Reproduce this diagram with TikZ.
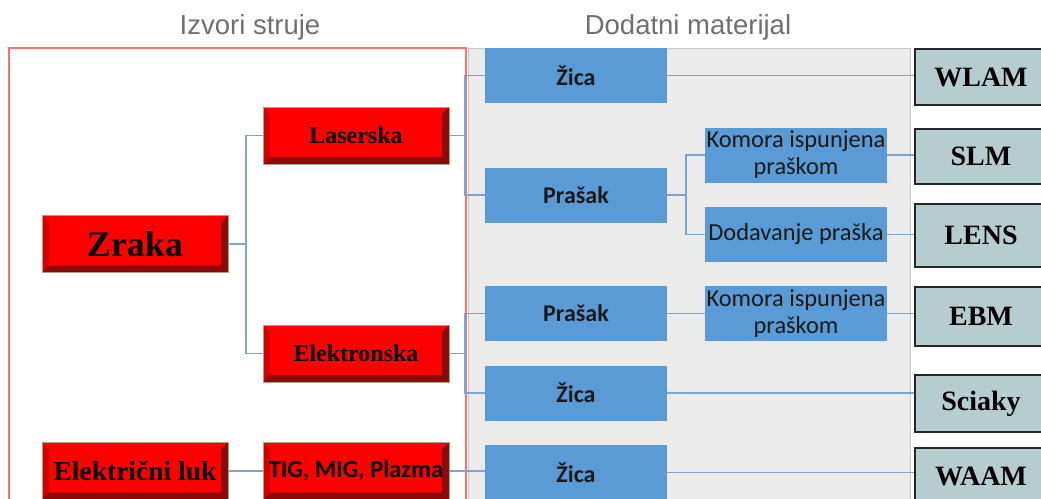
\documentclass[tikz,border=0pt]{standalone}
\usepackage{fontspec}
\setmainfont{Liberation Serif}
\newfontfamily\calibri{Carlito}
\newfontfamily\arialfont{Liberation Sans}
\definecolor{srcred}{HTML}{FF0000}
\definecolor{bevdark}{HTML}{8B0A0A}
\definecolor{bevleft}{HTML}{D20000}
\definecolor{rimgreen}{HTML}{A3A883}
\definecolor{matblue}{HTML}{5B9BD5}
\definecolor{procfill}{HTML}{B5CDCF}
\definecolor{linkblue}{HTML}{7FA3CC}
\definecolor{framered}{HTML}{FF6F6F}
\definecolor{panelgray}{HTML}{EBEBEB}
\definecolor{panelline}{HTML}{C9C9C9}
\definecolor{titlegray}{HTML}{6F6F6F}
\begin{document}
\begin{tikzpicture}[x=1pt,y=-1pt,
        title/.style={text=titlegray, font=\arialfont\fontsize{27.5}{31}\selectfont},
        srcbox/.style={draw=rimgreen, line width=0.6pt, fill=srcred, inner sep=0pt,
            minimum width=186pt, minimum height=57pt,
            font=\bfseries\fontsize{24}{28}\selectfont,
            path picture={
                \fill[bevdark] (path picture bounding box.south west)
                    -- (path picture bounding box.south east)
                    -- (path picture bounding box.north east)
                    -- ([shift={(-7pt,-7pt)}]path picture bounding box.north east)
                    -- ([shift={(-7pt,7pt)}]path picture bounding box.south east)
                    -- ([shift={(7pt,7pt)}]path picture bounding box.south west) -- cycle;
                \fill[bevleft] (path picture bounding box.south west)
                    -- (path picture bounding box.north west)
                    -- ([shift={(7pt,-7pt)}]path picture bounding box.north west)
                    -- ([shift={(7pt,7pt)}]path picture bounding box.south west) -- cycle;
            }},
        matbox/.style={fill=matblue, inner sep=0pt, minimum width=182pt, minimum height=55pt,
            text=black!90, font=\calibri\bfseries\fontsize{24}{28}\selectfont},
        subbox/.style={matbox, align=center, font=\calibri\fontsize{24.4}{27}\selectfont},
        procbox/.style={draw=black!85, line width=1.6pt, fill=procfill, inner sep=0pt,
            minimum width=132pt, minimum height=56pt,
            font=\bfseries\fontsize{28}{32}\selectfont},
        link/.style={draw=linkblue, line width=1.8pt}]
        \useasboundingbox (0,0) rectangle (1041,498);
        \clip (0,0) rectangle (1041,498);
        %% Panels
        \draw[fill=panelgray, draw=panelline, line width=1pt] (468,48) rectangle (910,520);
        \draw[draw=framered, line width=1.5pt] (9,48) rectangle (466,520);
        \node[title] (tsrc) at (250,27) {Izvori struje};
        \node[title] (tmat) at (688,27) {Dodatni materijal};
        %% Sources
        \node[srcbox, font=\bfseries\fontsize{36}{40}\selectfont] (zraka) at (135,244) {Zraka};
        \node[srcbox] (laser) at (356,135.5) {Laserska};
        \node[srcbox] (elek) at (356,353.5) {Elektronska};
        \node[srcbox, font=\bfseries\fontsize{27.5}{32}\selectfont] (luk) at (135,471) {Električni luk};
        \node[srcbox, font=\calibri\bfseries\fontsize{24.5}{28}\selectfont] (tig) at (356,471) {TIG, MIG, Plazma};
        %% Material
        \node[matbox] (zica1) at (576,75.5) {Žica};
        \node[matbox] (prah1) at (576,195) {Prašak};
        \node[matbox] (prah2) at (576,313.5) {Prašak};
        \node[matbox] (zica2) at (576,393) {Žica};
        \node[matbox] (zica3) at (576,472.5) {Žica};
        \node[subbox] (kom1) at (796,155) {Komora ispunjena\\praškom};
        \node[subbox] (dod) at (796,234.5) {Dodavanje praška};
        \node[subbox] (kom2) at (796,313.5) {Komora ispunjena\\praškom};
        %% Processes
        \node[procbox] (wlam) at (981,77) {WLAM};
        \node[procbox, minimum height=55pt] (slm) at (981,156.5) {SLM};
        \node[procbox, minimum height=63pt] (lens) at (981,235.5) {LENS};
        \node[procbox, minimum height=59pt] (ebm) at (981,316.5) {EBM};
        \node[procbox, minimum height=57pt] (sciaky) at (981,403.5) {Sciaky};
        \node[procbox] (waam) at (981,476) {WAAM};
        %% Links
        \draw[link] (zraka.east) -- ++(18,0) |- (laser.west);
        \draw[link] (zraka.east) -- ++(18,0) |- (elek.west);
        \draw[link] (laser.east) -- ++(16,0) |- (zica1.west);
        \draw[link] (laser.east) -- ++(16,0) |- (prah1.west);
        \draw[link] (elek.east) -- ++(16,0) |- (prah2.west);
        \draw[link] (elek.east) -- ++(16,0) |- (zica2.west);
        \draw[link] (luk.east) -- (tig.west);
        \draw[link] (tig.east) -- (tig.east -| zica3.west);
        \draw[link] (prah1.east) -- ++(19,0) |- (kom1.west);
        \draw[link] (prah1.east) -- ++(19,0) |- (dod.west);
        \draw[link] (prah2.east) -- (kom2.west);
        \draw[link] (zica1.east) -- (zica1.east -| wlam.west);
        \draw[link] (kom1.east) -- (kom1.east -| slm.west);
        \draw[link] (dod.east) -- (dod.east -| lens.west);
        \draw[link] (kom2.east) -- (kom2.east -| ebm.west);
        \draw[link] (zica2.east) -- (zica2.east -| sciaky.west);
        \draw[link] (zica3.east) -- (zica3.east -| waam.west);
\end{tikzpicture}
\end{document}
